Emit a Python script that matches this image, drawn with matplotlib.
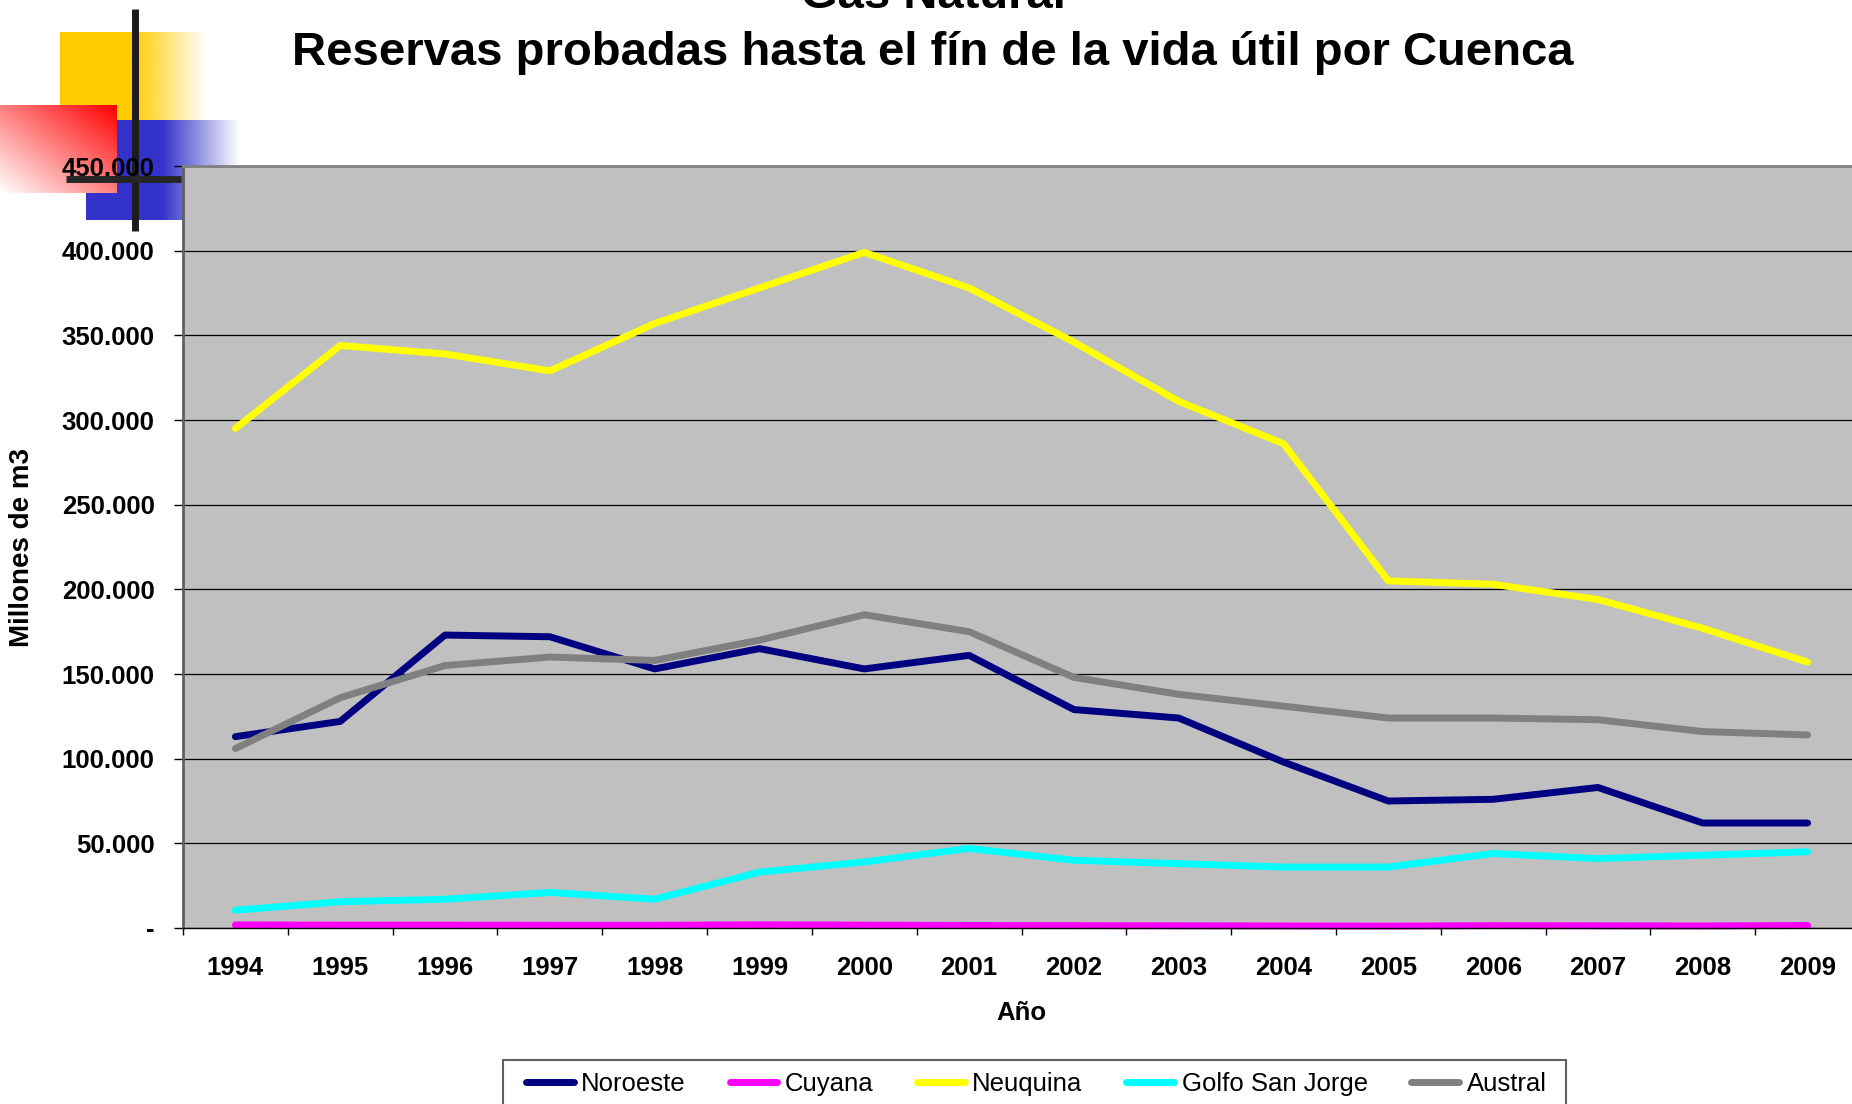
import numpy as np
import matplotlib
matplotlib.use('Agg')
import matplotlib.pyplot as plt
from matplotlib.ticker import FuncFormatter
from matplotlib.patches import Rectangle

plt.rcParams['font.family'] = ['Liberation Sans', 'DejaVu Sans']
plt.rcParams['font.weight'] = 'bold'
plt.rcParams['axes.labelweight'] = 'bold'

# Reservas probadas de gas natural (millones de m3)
years = ['1994', '1995', '1996', '1997', '1998', '1999', '2000', '2001',
         '2002', '2003', '2004', '2005', '2006', '2007', '2008', '2009']
noroeste = [113000, 122000, 173000, 172000, 153000, 165000, 153000, 161000,
            129000, 124000, 98000, 75000, 76000, 83000, 62000, 62000]
cuyana = [1800, 1700, 1700, 1600, 1600, 1900, 1700, 1500,
          1400, 1300, 1200, 1100, 1400, 1300, 1200, 1500]
neuquina = [295000, 344000, 339000, 329000, 357000, 378000, 399000, 378000,
            346000, 311000, 286000, 205000, 203000, 194000, 177000, 157000]
golfo = [10500, 15500, 17000, 21000, 17000, 33000, 39000, 47000,
         40000, 38000, 36000, 36000, 44000, 41000, 43000, 45000]
austral = [106000, 136000, 155000, 160000, 158000, 170000, 185000, 175000,
           148000, 138000, 131000, 124000, 124000, 123000, 116000, 114000]

names = ['Noroeste', 'Cuyana', 'Neuquina', 'Golfo San Jorge', 'Austral']
values = [noroeste, cuyana, neuquina, golfo, austral]
colors = ['#000080', '#FF00FF', '#FFFF00', '#00FFFF', '#808080']

W, H = 1852, 1104
fig = plt.figure(figsize=(W / 100, H / 100), dpi=100)

# slide template decoration (pixel coordinates)
deco = fig.add_axes([0, 0, 1, 1], zorder=0)

def fade_box(x0, x1, y0, y1, rgb, solid_to):
    xs = np.linspace(x0, x1, 200)
    img = np.zeros((2, 200, 4))
    img[..., :3] = rgb
    img[..., 3] = np.clip((x1 - xs) / (x1 - solid_to), 0, 1)
    deco.imshow(img, extent=(x0, x1, y1, y0), aspect='auto', interpolation='bilinear')

fade_box(60, 207, 32, 120, (1, 0.8, 0), 133)
fade_box(86, 240, 120, 220, (0.2, 0.2, 0.8), 163)

u = np.linspace(0, 1, 120)[None, :]
v = np.linspace(0, 1, 90)[:, None]
t = (u + 1 - v) / 2
red = np.ones((90, 120, 3))
red[..., 1] = 1 - t
red[..., 2] = 1 - t
deco.imshow(red, extent=(0, 117, 193, 105), aspect='auto', interpolation='bilinear')

deco.plot([135, 135], [9, 231], color='#1c1c1c', lw=5, solid_capstyle='butt')
deco.plot([66, 181], [179, 179], color='#262626', lw=5, solid_capstyle='butt')
deco.set_xlim(0, W)
deco.set_ylim(H, 0)
deco.axis('off')

# chart
ax = fig.add_axes([183 / W, (H - 928) / H, (1860 - 183) / W, (928 - 166) / H], zorder=1)
ax.set_facecolor('#C0C0C0')
x = np.arange(len(years))
for name, vals, col in zip(names, values, colors):
    ax.plot(x, vals, color=col, lw=5, label=name, solid_capstyle='round', clip_on=False)

ax.set_xlim(-0.5, len(years) - 0.5)
ax.set_ylim(0, 450000)
ax.set_yticks(np.arange(0, 450001, 50000))
ax.yaxis.set_major_formatter(FuncFormatter(
    lambda val, pos: '-' if val == 0 else f'{int(val):,}'.replace(',', '.')))
ax.grid(axis='y', color='black', lw=0.9)
ax.set_axisbelow(True)

ax.set_xticks(np.arange(-0.5, len(years), 1))
ax.set_xticklabels([])
ax.set_xticks(x, minor=True)
ax.set_xticklabels(years, minor=True)
ax.tick_params(axis='x', which='major', length=5, width=1, color='black')
ax.tick_params(axis='x', which='minor', length=0, pad=20, labelsize=18.5)
ax.tick_params(axis='y', length=6.5, width=1, pad=14, labelsize=18.5)

ax.spines['top'].set_color('#808080')
ax.spines['top'].set_linewidth(2)
ax.spines['left'].set_color('#606060')
ax.spines['left'].set_linewidth(2)
ax.spines['bottom'].set_color('black')
ax.spines['bottom'].set_linewidth(1)
ax.spines['right'].set_visible(False)

ax.set_ylabel('Millones de m3', fontsize=20, fontweight='bold')
ax.yaxis.set_label_coords(-0.088, 0.5)
ax.set_xlabel('Año', fontsize=18.5, fontweight='bold')
ax.xaxis.set_label_coords(0.5, -0.096)

fig.text(933 / W, 1 - 8 / H, 'Gas Natural', ha='center', va='baseline', fontsize=34)
fig.text(933 / W, 1 - 65 / H, 'Reservas probadas hasta el fín de la vida útil por Cuenca',
         ha='center', va='baseline', fontsize=34)

# legend box cut by the lower edge
box = Rectangle((503 / W, -0.02), (1566 - 503) / W, (H - 1060) / H + 0.02,
                transform=fig.transFigure, facecolor='white', edgecolor='#606060',
                lw=1.5, zorder=2)
fig.add_artist(box)
leg = fig.legend(loc='upper left', bbox_to_anchor=(526 / W, 1 - 1072 / H), ncol=5,
                 frameon=False, borderpad=0, borderaxespad=0,
                 prop={'size': 18.5, 'weight': 'normal'},
                 handlelength=1.85, handletextpad=0.3, columnspacing=1.7)
leg.set_zorder(3)

fig.savefig('out.png', dpi=100)
